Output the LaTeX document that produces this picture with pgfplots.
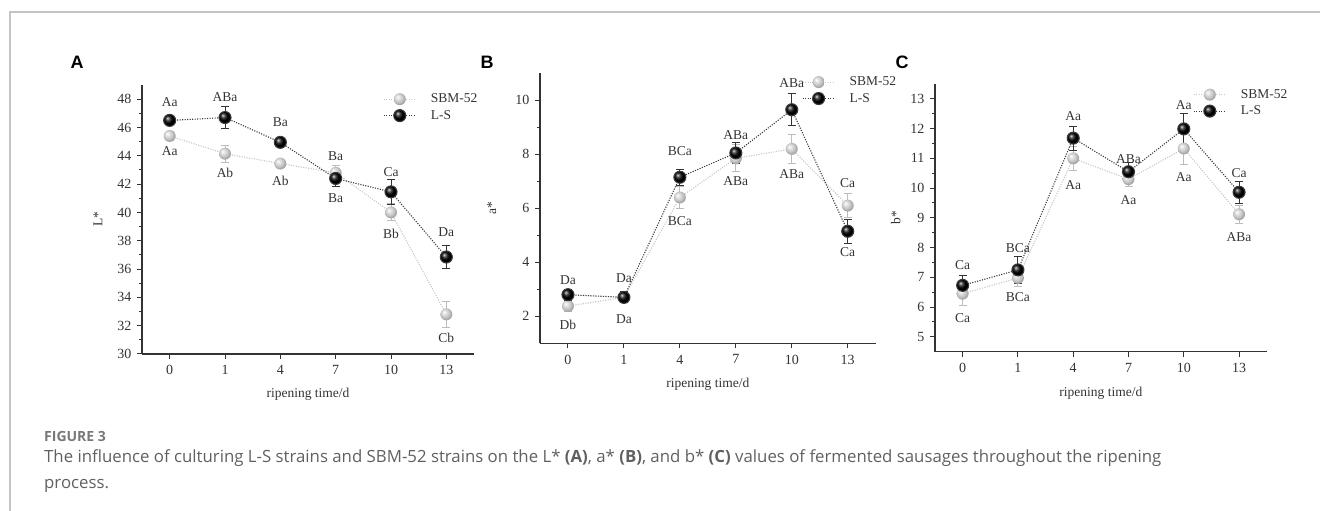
\documentclass[border=0pt]{standalone}
\usepackage{fontspec}
\setmainfont{Liberation Serif}
\newfontfamily\capfont{Open Sans}
\newfontfamily\letterfont{Liberation Sans}
\usepackage{pgfplots}
\usepackage{pgfplotstable}
\pgfplotsset{compat=1.18}

\definecolor{sbm}{HTML}{C6C6C6}
\definecolor{sbmerr}{HTML}{BDBDBD}
\definecolor{ls}{HTML}{3A3A3A}
\definecolor{axisgray}{HTML}{333333}
\definecolor{capgray}{HTML}{606060}
\definecolor{framegray}{HTML}{C4C4C4}

\pgfdeclareradialshading{lightball}{\pgfpoint{-10bp}{10bp}}{%
  color(0bp)=(white); color(9bp)=(sbm!55!white); color(18bp)=(sbm);
  color(25bp)=(sbm!85!black); color(50bp)=(sbm!70!black)}
\pgfdeclareplotmark{lightball}{%
  \pgfpathcircle{\pgfpointorigin}{\pgfplotmarksize}%
  \pgfshadepath{lightball}{0}%
  \pgfusepath{}}

\newcommand{\fs}{\fontsize{13.5}{15}\selectfont}
\newcommand{\tfs}{\fontsize{14}{15}\selectfont}

% Panel A: L*
\pgfplotstableread{
x y e
0 45.40 0.30
1 44.15 0.60
2 43.45 0.30
3 42.80 0.50
4 40.00 0.60
5 32.80 0.90
}\Asbm
\pgfplotstableread{
x y e
0 46.50 0.30
1 46.70 0.80
2 44.95 0.30
3 42.40 0.60
4 41.45 0.90
5 36.85 0.80
}\Als
% Panel B: a*
\pgfplotstableread{
x y e
0 2.38 0.20
1 2.70 0.20
2 6.40 0.40
3 7.85 0.50
4 8.20 0.55
5 6.10 0.45
}\Bsbm
\pgfplotstableread{
x y e
0 2.80 0.20
1 2.70 0.20
2 7.15 0.30
3 8.05 0.40
4 9.65 0.60
5 5.15 0.45
}\Bls
% Panel C: b*
\pgfplotstableread{
x y e
0 6.45 0.40
1 6.98 0.30
2 11.00 0.40
3 10.30 0.25
4 11.33 0.55
5 9.12 0.30
}\Csbm
\pgfplotstableread{
x y e
0 6.73 0.33
1 7.25 0.45
2 11.68 0.40
3 10.55 0.30
4 11.99 0.53
5 9.86 0.37
}\Cls

\pgfplotsset{
  panel/.style={
    scale only axis, anchor=south west,
    axis lines*=left,
    axis line style={axisgray, line width=1.2pt},
    tick style={axisgray, line width=1pt},
    tick align=outside,
    major tick length=5pt, minor tick length=3pt,
    xmin=-0.5, xmax=5.5,
    xtick={0,...,5}, xticklabels={0,1,4,7,10,13},
    minor y tick num=1,
    ticklabel style={font=\tfs, color=axisgray},
    yticklabel style={xshift=-2pt},
    xticklabel style={yshift=-3pt},
    /pgf/number format/assume math mode=true,
    label style={font=\fs, color=axisgray},
    clip=false,
    legend cell align=left,
    legend style={draw=none, fill=none, font=\fs, inner sep=0pt, row sep=3pt,
      nodes={inner sep=1.5pt, text=axisgray},
      /tikz/every odd column/.append style={column sep=13pt}},
    legend image code/.code={\draw[mark repeat=2, mark phase=2, ##1] plot coordinates {(0pt,0pt) (16pt,0pt) (32pt,0pt)};},
  },
  sbmstyle/.style={color=sbm, line width=1.1pt, dash pattern=on 1.1pt off 1.4pt,
    mark=lightball, mark size=6pt, mark options={solid},
    error bars/.cd, y dir=both, y explicit,
    error bar style={sbmerr, line width=1pt, solid},
    error mark options={rotate=90, mark size=4pt, sbmerr, line width=1pt, solid}},
  lsstyle/.style={color=ls, line width=1.1pt, dash pattern=on 1.1pt off 1.4pt,
    mark=ball, mark size=6pt, mark options={solid, ball color=black},
    error bars/.cd, y dir=both, y explicit,
    error bar style={axisgray, line width=1pt, solid},
    error mark options={rotate=90, mark size=4pt, axisgray, line width=1pt, solid}},
}
\newcommand{\lab}[3]{\node[font=\fs, text=axisgray, inner sep=0pt] at (axis cs:#1,#2) {#3};}

\begin{document}
\begin{tikzpicture}
\useasboundingbox (0pt,0pt) rectangle (1320pt,511pt);
\draw[framegray, line width=1.5pt] (10pt,0pt) -- (10pt,499pt) -- (1320pt,499pt);

% ---------- Panel A ----------
\begin{axis}[panel, at={(142pt,157pt)}, width=332pt, height=269pt,
  ymin=30, ymax=49, ytick={30,32,...,48},
  xlabel={ripening time/d}, ylabel={L*},
  xlabel style={at={(axis description cs:0.5,-0.15)}, anchor=center},
  ylabel style={at={(axis description cs:-0.1325,0.5)}, anchor=center},
  legend style={at={(axis description cs:0.726,0.973)}, anchor=north west}]
\addplot[sbmstyle] table[x=x, y=y, y error=e] {\Asbm};
\addlegendentry{SBM-52}
\addplot[lsstyle] table[x=x, y=y, y error=e] {\Als};
\addlegendentry{L-S}
\lab{0}{47.76}{Aa}\lab{0}{44.33}{Aa}
\lab{1}{48.12}{ABa}\lab{1}{42.80}{Ab}
\lab{2}{46.35}{Ba}\lab{2}{42.21}{Ab}
\lab{3}{43.98}{Ba}\lab{3}{40.98}{Ba}
\lab{4}{42.85}{Ca}\lab{4}{38.50}{Bb}
\lab{5}{38.62}{Da}\lab{5}{31.15}{Cb}
\end{axis}

% ---------- Panel B ----------
\begin{axis}[panel, at={(540pt,167.7pt)}, width=335.7pt, height=270pt,
  ymin=1, ymax=11, ytick={2,4,...,10},
  xlabel={ripening time/d}, ylabel={a*},
  xlabel style={at={(axis description cs:0.5,-0.153)}, anchor=center},
  ylabel style={at={(axis description cs:-0.144,0.5)}, anchor=center},
  legend style={at={(axis description cs:0.780,0.993)}, anchor=north west}]
\addplot[sbmstyle] table[x=x, y=y, y error=e] {\Bsbm};
\addlegendentry{SBM-52}
\addplot[lsstyle] table[x=x, y=y, y error=e] {\Bls};
\addlegendentry{L-S}
\lab{0}{3.34}{Da}\lab{0}{1.68}{Db}
\lab{1}{3.41}{Da}\lab{1}{1.89}{Da}
\lab{2}{8.10}{BCa}\lab{2}{5.53}{BCa}
\lab{3}{8.71}{ABa}\lab{3}{7.02}{ABa}
\lab{4}{10.63}{ABa}\lab{4}{7.26}{ABa}
\lab{5}{6.93}{Ca}\lab{5}{4.39}{Ca}
\end{axis}

% ---------- Panel C ----------
\begin{axis}[panel, at={(935pt,159.3pt)}, width=331.7pt, height=267.7pt,
  ymin=4.5, ymax=13.5, ytick={5,...,13},
  xlabel={ripening time/d}, ylabel={b*},
  xlabel style={at={(axis description cs:0.5,-0.154)}, anchor=center},
  ylabel style={at={(axis description cs:-0.118,0.5)}, anchor=center},
  legend style={at={(axis description cs:0.778,0.986)}, anchor=north west}]
\addplot[sbmstyle] table[x=x, y=y, y error=e] {\Csbm};
\addlegendentry{SBM-52}
\addplot[lsstyle] table[x=x, y=y, y error=e] {\Cls};
\addlegendentry{L-S}
\lab{0}{7.41}{Ca}\lab{0}{5.64}{Ca}
\lab{1}{7.97}{BCa}\lab{1}{6.33}{BCa}
\lab{2}{12.41}{Aa}\lab{2}{10.09}{Aa}
\lab{3}{10.99}{ABa}\lab{3}{9.59}{Aa}
\lab{4}{12.80}{Aa}\lab{4}{10.37}{Aa}
\lab{5}{10.51}{Ca}\lab{5}{8.34}{ABa}
\end{axis}

% panel letters
\node[font=\letterfont\bfseries\fontsize{18}{18}\selectfont, inner sep=0pt] at (77pt,449pt) {A};
\node[font=\letterfont\bfseries\fontsize{18}{18}\selectfont, inner sep=0pt] at (487pt,449pt) {B};
\node[font=\letterfont\bfseries\fontsize{18}{18}\selectfont, inner sep=0pt] at (902pt,449pt) {C};

% caption
\node[anchor=west, inner sep=0pt, font=\capfont\bfseries\fontsize{14}{16}\selectfont, text=capgray!85] at (44pt,74pt) {FIGURE 3};
\node[anchor=base west, inner sep=0pt, font=\capfont\fontsize{16.8}{20}\selectfont, text=capgray] at (44pt,48pt)
 {The influence of culturing L-S strains and SBM-52 strains on the L* \textbf{(A)}, a* \textbf{(B)}, and b* \textbf{(C)} values of fermented sausages throughout the ripening};
\node[anchor=base west, inner sep=0pt, font=\capfont\fontsize{16.8}{20}\selectfont, text=capgray] at (44pt,22pt) {process.};
\end{tikzpicture}
\end{document}
